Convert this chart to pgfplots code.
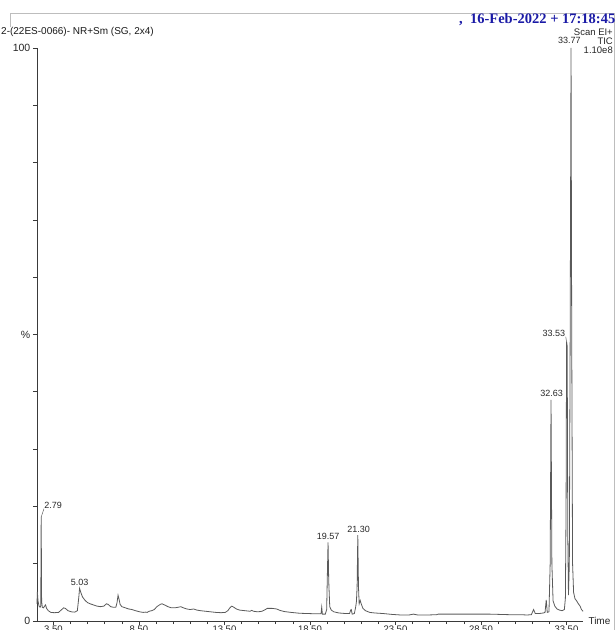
\documentclass[border=0pt]{standalone}
\usepackage{pgfplots}
\pgfplotsset{compat=1.18}
\usepackage{fontspec}
\setmainfont{Liberation Sans}
\newfontfamily\datefont{Liberation Serif}
\definecolor{trace}{HTML}{5A5A5A}
\definecolor{axisc}{HTML}{3A3A3A}
\definecolor{datec}{HTML}{1A1AA6}
\definecolor{framec}{HTML}{BDBDBD}
\tikzset{lab/.style={font=\fontsize{9}{10}\selectfont, text=black!85, inner sep=1pt}}

% TIC trace: time (min), relative intensity (%)
\pgfplotstableread{
t v
2.54 3.0
2.56 5.1
2.60 3.5
2.66 2.6
2.72 2.4
2.76 2.6
2.785 18.2
2.81 3.5
2.85 2.4
2.92 2.3
2.98 2.6
3.04 2.8
3.10 2.2
3.20 1.8
3.35 1.5
3.55 1.45
3.80 1.5
3.95 1.9
4.10 2.3
4.20 2.2
4.35 1.8
4.55 1.6
4.75 1.55
4.90 1.8
4.98 4.0
5.03 5.7
5.10 5.0
5.20 4.2
5.35 3.6
5.50 3.2
5.65 3.0
5.85 2.8
6.05 2.6
6.25 2.5
6.45 2.6
6.60 3.0
6.70 2.9
6.85 2.5
7.00 2.4
7.15 2.4
7.22 3.2
7.28 4.5
7.34 3.8
7.40 2.9
7.50 2.5
7.70 2.3
7.90 2.1
8.10 2.0
8.30 1.8
8.55 1.6
8.75 1.5
8.90 1.55
8.98 1.5
9.10 1.7
9.25 1.8
9.40 2.0
9.55 2.5
9.75 2.9
9.85 3.0
10.0 2.8
10.2 2.5
10.4 2.3
10.6 2.3
10.8 2.4
10.95 2.5
11.1 2.3
11.3 2.1
11.5 2.0
11.7 2.1
11.9 1.9
12.1 1.8
12.4 1.7
12.7 1.6
13.0 1.5
13.3 1.45
13.55 1.5
13.7 1.8
13.82 2.3
13.93 2.6
14.05 2.4
14.2 2.1
14.4 1.9
14.7 1.8
15.0 1.7
15.1 1.85
15.2 1.7
15.45 1.6
15.7 1.7
15.9 2.0
16.0 2.2
16.3 2.2
16.55 2.1
16.75 1.85
17.0 1.65
17.4 1.5
17.9 1.35
18.4 1.3
18.95 1.25
19.15 1.25
19.19 2.4
19.23 1.2
19.40 1.2
19.48 2.0
19.52 8.0
19.56 13.7
19.60 7.0
19.66 2.5
19.75 1.9
19.90 1.6
20.2 1.4
20.6 1.3
20.82 1.3
20.88 1.9
20.92 2.0
20.97 1.2
21.10 1.3
21.18 2.5
21.22 3.4
21.26 6.0
21.30 15.0
21.34 6.0
21.38 3.0
21.44 3.6
21.50 3.0
21.60 2.2
21.75 1.8
22.0 1.5
22.3 1.4
22.8 1.3
23.3 1.15
23.8 1.05
24.3 1.05
24.55 1.2
24.8 1.05
25.4 1.05
25.9 1.1
26.0 1.2
27.0 1.2
28.0 1.2
29.0 1.2
29.6 1.15
30.2 1.1
30.8 1.1
31.2 1.05
31.45 1.1
31.58 2.0
31.68 1.3
31.9 1.3
32.15 1.4
32.25 1.5
32.32 3.7
32.38 1.5
32.48 1.6
32.55 10
32.60 38.6
32.65 10
32.72 3.5
32.82 2.6
32.95 2.1
33.10 1.9
33.25 1.8
33.38 2.0
33.44 4.0
33.48 20
33.51 48.7
33.545 48.0
33.58 15
33.62 4.5
33.67 10
33.72 50
33.77 100
33.81 50
33.86 10
33.92 5
34.0 3.9
34.1 3.5
34.2 3.0
34.3 2.6
34.38 2.0
34.47 1.7
}\tic

\begin{document}
\begin{tikzpicture}[x=1pt,y=1pt]
\path[use as bounding box] (0,0) rectangle (616,630);
\draw[framec, line width=0.7pt] (10,603) -- (10,617) -- (614,617) -- (614,-5);

\begin{axis}[
    at={(37pt,9pt)}, anchor=south west,
    scale only axis, width=546pt, height=573pt,
    xmin=2.54, xmax=34.47, ymin=0, ymax=100,
    axis x line=bottom, axis y line=left,
    axis line style={-, draw=axisc, line width=0.7pt},
    tick align=outside,
    major tick length=4pt, minor tick length=3pt,
    tick style={draw=axisc, line width=0.6pt},
    xtick={3.5,8.5,13.5,18.5,23.5,28.5,33.5},
    xticklabels={3.50,8.50,13.50,18.50,23.50,28.50,33.50},
    minor x tick num=4,
    ytick={0,10,20,30,40,50,60,70,80,90,100},
    yticklabels={0,,,,,\%,,,,,100},
    ticklabel style={font=\fontsize{9.5}{11}\selectfont, text=black!85},
    xticklabel style={inner sep=0pt, yshift=-1pt},
    yticklabel style={font=\fontsize{10.5}{12}\selectfont, inner sep=2.5pt},
    clip=false,
]
\addplot[trace, line width=0.8pt] table[x=t, y=v] {\tic};

\node[lab, anchor=south west] at (axis cs:2.90,19.4) {2.79};
\draw[trace, line width=0.5pt] (axis cs:2.79,18.2) -- (axis cs:2.95,19.6);
\node[lab, anchor=south] at (axis cs:5.03,6.0) {5.03};
\node[lab, anchor=south] at (axis cs:19.57,14.0) {19.57};
\node[lab, anchor=south] at (axis cs:21.35,15.3) {21.30};
\node[lab, anchor=south] at (axis cs:32.63,38.9) {32.63};
\node[lab, anchor=south east] at (axis cs:33.49,49.5) {33.53};
\draw[trace, line width=0.5pt] (axis cs:33.51,48.7) -- (axis cs:33.46,49.6);
\node[lab, anchor=south] at (axis cs:33.67,100.5) {33.77};
\node[font=\fontsize{10}{11}\selectfont, text=black!85, anchor=west] at (axis cs:34.47,0) {\hspace{2pt}Time};
\end{axis}

\node[anchor=west, inner sep=0pt, font=\fontsize{10}{11}\selectfont, text=black!90] at (1,598) {2-(22ES-0066)- NR+Sm (SG, 2x4)};
\node[anchor=east, inner sep=0pt, font=\datefont\bfseries\fontsize{14.5}{16}\selectfont, text=datec] at (615.5,610) {,\ \ 16-Feb-2022 + 17:18:45};
\node[anchor=east, inner sep=0pt, font=\fontsize{9.5}{11}\selectfont, text=black!85] at (613,598) {Scan EI+};
\node[anchor=east, inner sep=0pt, font=\fontsize{9.5}{11}\selectfont, text=black!85] at (613,589) {TIC};
\node[anchor=east, inner sep=0pt, font=\fontsize{9.5}{11}\selectfont, text=black!85] at (613,580) {1.10e8};
\end{tikzpicture}
\end{document}
